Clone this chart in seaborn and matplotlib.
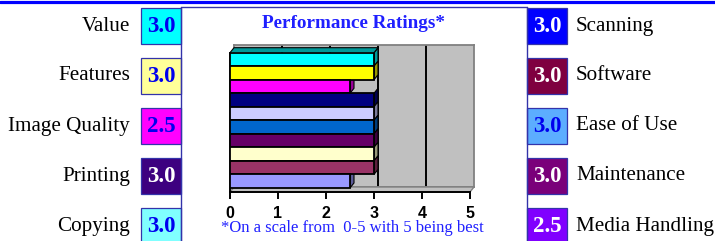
import matplotlib
matplotlib.use("Agg")
import matplotlib.pyplot as plt
import seaborn as sns
import pandas as pd
import numpy as np
from matplotlib.patches import Rectangle, Polygon
from matplotlib.lines import Line2D
from matplotlib.transforms import IdentityTransform
from matplotlib.colors import to_rgb

# ---- data ----
categories = ["Value", "Features", "Image Quality", "Printing", "Copying",
              "Scanning", "Software", "Ease of Use", "Maintenance", "Media Handling"]
ratings = [3.0, 3.0, 2.5, 3.0, 3.0, 3.0, 3.0, 3.0, 3.0, 2.5]
bar_colors = ["#00FFFF", "#FFFF00", "#FF00FF", "#000080", "#CCCCFF",
              "#0066CC", "#660066", "#FFFFCC", "#993366", "#9999FF"]
box_colors = ["#00FFFF", "#FFFF99", "#FF00FF", "#3D0080", "#80FFFF",
              "#0000FF", "#7F0040", "#5CADFF", "#7A007A", "#8000FF"]
box_text_colors = ["#0000EE", "#0000EE", "#0000EE", "white", "#0000EE",
                   "white", "white", "#0000EE", "white", "white"]
x_ticks = [0, 1, 2, 3, 4, 5]
title = "Performance Ratings*"
footnote = "*On a scale from  0-5 with 5 being best"

sns.set_theme(style="white")
plt.rcParams['font.family'] = ['Liberation Serif', 'DejaVu Serif']

W, H = 715, 241
fig = plt.figure(figsize=(W / 100, H / 100), dpi=100)
fig.patch.set_facecolor("white")


def fx(px):
    return px / W


def fy(py):
    return 1 - py / H


frame_col = "#3333AA"
# top thick blue rule
fig.add_artist(Line2D([0, 1], [fy(1.5)] * 2, color="#0000FF", lw=2.3,
                      transform=fig.transFigure))
# center panel frame
fig.add_artist(Line2D([fx(181), fx(181)], [fy(7), 0], color=frame_col, lw=1.0,
                      transform=fig.transFigure))
fig.add_artist(Line2D([fx(527), fx(527)], [fy(7), 0], color=frame_col, lw=1.0,
                      transform=fig.transFigure))
fig.add_artist(Line2D([fx(181), fx(527)], [fy(7), fy(7)], color=frame_col, lw=1.0,
                      transform=fig.transFigure))

# rating boxes and labels
for i, (cat, val, bc, tc) in enumerate(zip(categories, ratings, box_colors, box_text_colors)):
    col = i // 5
    row = i % 5
    top = 8 + 50 * row
    bx = 141 if col == 0 else 527
    fig.add_artist(Rectangle((fx(bx), fy(top + 36)), 40 / W, 36 / H,
                             facecolor=bc, edgecolor=frame_col, lw=0.9,
                             transform=fig.transFigure))
    fig.text(fx(bx + 20), fy(top + 18), f"{val:.1f}", ha="center", va="center",
             fontsize=16.5, fontweight="bold", color=tc)
    if col == 0:
        fig.text(fx(130), fy(top + 18), cat, ha="right", va="center",
                 fontsize=15.2, color="black")
    else:
        fig.text(fx(576), fy(top + 18), cat, ha="left", va="center",
                 fontsize=15.2, color="black")

# back wall
wall = fig.add_axes([fx(234), fy(187), 240 / W, (187 - 45) / H], zorder=0)
wall.set_facecolor("#C0C0C0")
wall.set_xlim(0, 5)
wall.set_ylim(0, 1)
wall.set_xticks(x_ticks[1:-1])
wall.set_yticks([])
wall.tick_params(length=0, labelbottom=False)
wall.grid(axis="x", color="black", lw=1.4)
wall.grid(axis="y", visible=False)
for s in wall.spines.values():
    s.set_color("#808080")
    s.set_linewidth(1.3)

# floor
floor_px = [(230, 192), (470, 192), (474, 187), (234, 187)]
fig.add_artist(Polygon([(x, H - y) for x, y in floor_px], closed=True,
                       facecolor="#C0C0C0", edgecolor="#808080", lw=1.0,
                       transform=IdentityTransform(), zorder=0.5))

# main bar axes
ax = fig.add_axes([fx(230), fy(192), 240 / W, (192 - 52.7) / H], zorder=1)
ax.set_facecolor("none")
df = pd.DataFrame({"category": categories, "rating": ratings})
sns.barplot(data=df, x="rating", y="category", hue="category", palette=bar_colors,
            saturation=1, width=1.0, edgecolor="black", linewidth=1.3,
            legend=False, ax=ax)
for p in ax.patches:
    p.set_zorder(3)
ax.set_xlim(0, 5)
ax.set_ylim(9.8, -0.5)
ax.set_xlabel("")
ax.set_ylabel("")
ax.set_yticks([])
ax.set_xticks(x_ticks, labels=[str(t) for t in x_ticks], fontsize=11.5,
              fontweight="bold", fontfamily="Liberation Sans", color="black")
ax.tick_params(axis="x", direction="out", length=5, width=1.4, color="black",
               pad=5, bottom=True)
for side in ["top", "right"]:
    ax.spines[side].set_visible(False)
ax.spines["bottom"].set_color("black")
ax.spines["bottom"].set_linewidth(1.4)
ax.spines["left"].set_color("black")
ax.spines["left"].set_linewidth(1.4)

# 3D side faces of bars
dx, dy = 4, 5
for i, (v, c) in enumerate(zip(ratings, bar_colors)):
    dark = tuple(np.array(to_rgb(c)) * 0.6)
    x0, yt = ax.transData.transform((0, i - 0.5))
    xr, yb = ax.transData.transform((v, i + 0.5))
    side = Polygon([(xr, yb), (xr, yt), (xr + dx, yt + dy), (xr + dx, yb + dy)],
                   closed=True, facecolor=dark, edgecolor="black", lw=0.8,
                   transform=IdentityTransform(), clip_on=False, zorder=2)
    ax.add_artist(side)
    if i == 0:
        topf = Polygon([(x0, yt), (xr, yt), (xr + dx, yt + dy), (x0 + dx, yt + dy)],
                       closed=True, facecolor=dark, edgecolor="black", lw=0.8,
                       transform=IdentityTransform(), clip_on=False, zorder=2)
        ax.add_artist(topf)

fig.text(fx(353), fy(23), title, ha="center", va="center", fontsize=13.8,
         fontweight="bold", color="#1F1FFF")
fig.text(fx(352.5), fy(228), footnote, ha="center", va="center", fontsize=12,
         color="#2020FF")

fig.savefig("out.png", dpi=100, facecolor="white")
